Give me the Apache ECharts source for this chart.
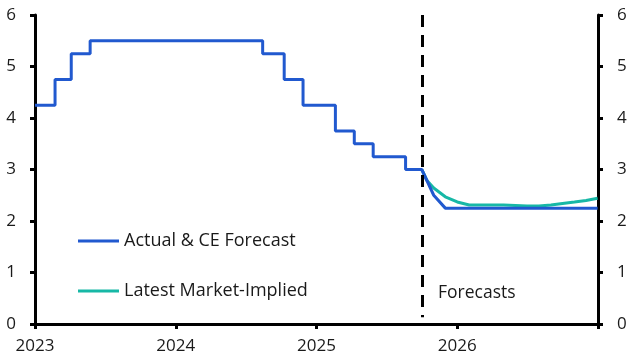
<!DOCTYPE html>
<html>
<head>
<meta charset="utf-8">
<script src="https://cdn.jsdelivr.net/npm/echarts@6/dist/echarts.min.js"></script>
<style>html,body{margin:0;padding:0;background:#fff}#c{width:633px;height:363px}</style>
</head>
<body>
<div id="c"></div>
<script>
// Policy rate decisions (date of change, new rate)
const actualDates = ['2023-01-01','2023-02-22','2023-04-05','2023-05-24','2024-08-14','2024-10-09','2024-11-27','2025-02-19','2025-04-09','2025-05-28','2025-08-20'];
const actualValues = [4.25, 4.75, 5.25, 5.5, 5.25, 4.75, 4.25, 3.75, 3.5, 3.25, 3.0];
const actualEnd = '2025-10-01';
// CE forecast (linear path)
const forecastDates = ['2025-11-01','2025-12-01','2026-12-31'];
const forecastValues = [2.5, 2.25, 2.25];
// Market-implied path
const marketDates = ['2025-10-01','2025-10-15','2025-11-01','2025-12-01','2026-01-01','2026-02-01','2026-03-01','2026-04-01','2026-05-01','2026-06-01','2026-07-01','2026-08-01','2026-09-01','2026-10-01','2026-11-01','2026-12-01','2026-12-31'];
const marketValues = [3.0, 2.78, 2.64, 2.47, 2.37, 2.31, 2.31, 2.31, 2.31, 2.30, 2.29, 2.29, 2.31, 2.34, 2.37, 2.40, 2.44];
const forecastStart = '2025-10-01';
const yearTicks = [2023, 2024, 2025, 2026, 2027];
const yearLabels = ['2023', '2024', '2025', '2026', ''];
const yTicks = [0, 1, 2, 3, 4, 5, 6];

function toYear(s) {
  const d = Date.parse(s + 'T00:00:00Z');
  const y = new Date(d).getUTCFullYear();
  const a = Date.UTC(y, 0, 1), b = Date.UTC(y + 1, 0, 1);
  return y + (d - a) / (b - a);
}

const blue = [];
for (let i = 0; i < actualDates.length; i++) {
  const x = toYear(actualDates[i]);
  if (i > 0) blue.push([x, actualValues[i - 1]]);
  blue.push([x, actualValues[i]]);
}
blue.push([toYear(actualEnd), actualValues[actualValues.length - 1]]);
for (let i = 0; i < forecastDates.length; i++) blue.push([toYear(forecastDates[i]), forecastValues[i]]);

const teal = marketDates.map((d, i) => [toYear(d), marketValues[i]]);

const FONT = 'Open Sans';
const axisLineStyle = { color: '#000', width: 3 };
const chart = echarts.init(document.getElementById('c'), null, { renderer: 'canvas' });
chart.setOption({
  animation: false,
  grid: { left: 35, right: 35, top: 15, bottom: 39, containLabel: false },
  xAxis: {
    type: 'value', min: yearTicks[0], max: yearTicks[yearTicks.length - 1], interval: 1,
    axisLine: { show: true, onZero: false, lineStyle: axisLineStyle },
    axisTick: { show: true, length: 5, lineStyle: { color: '#000', width: 3 } },
    axisLabel: { color: '#1a1a1a', fontFamily: FONT, fontSize: 17, margin: 14,
      formatter: v => yearLabels[yearTicks.indexOf(Math.round(v))] || '' },
    splitLine: { show: false }
  },
  yAxis: [
    {
      type: 'value', min: yTicks[0], max: yTicks[yTicks.length - 1], interval: 1, position: 'left',
      axisLine: { show: true, lineStyle: axisLineStyle },
      axisTick: { show: true, length: 5, lineStyle: { color: '#000', width: 3 } },
      axisLabel: { color: '#1a1a1a', fontFamily: FONT, fontSize: 17, margin: 19 },
      splitLine: { show: false }
    },
    {
      type: 'value', min: yTicks[0], max: yTicks[yTicks.length - 1], interval: 1, position: 'right',
      axisLine: { show: true, lineStyle: axisLineStyle },
      axisTick: { show: true, length: 5, lineStyle: { color: '#000', width: 3 } },
      axisLabel: { color: '#1a1a1a', fontFamily: FONT, fontSize: 17, margin: 19 },
      splitLine: { show: false }
    }
  ],
  legend: {
    orient: 'vertical', left: 73, top: 225, itemGap: 28, itemWidth: 41, itemHeight: 3,
    icon: 'rect',
    textStyle: { color: '#1a1a1a', fontFamily: FONT, fontSize: 18, lineHeight: 22 },
    data: ['Actual & CE Forecast', 'Latest Market-Implied']
  },
  graphic: [{
    type: 'text', left: 438, top: 284,
    style: { text: 'Forecasts', fill: '#1a1a1a', font: '17.5px "Open Sans"' }
  }],
  series: [
    {
      name: 'Latest Market-Implied', type: 'line', data: teal, showSymbol: false, symbol: 'none',
      lineStyle: { color: '#17B8A6', width: 3 }, itemStyle: { color: '#17B8A6' }, z: 2
    },
    {
      name: 'Actual & CE Forecast', type: 'line', data: blue, showSymbol: false, symbol: 'none',
      lineStyle: { color: '#2159CF', width: 3 }, itemStyle: { color: '#2159CF' }, z: 3,
      markLine: {
        silent: true, symbol: 'none', label: { show: false },
        lineStyle: { color: '#000', width: 3, type: [12, 8] },
        data: [[{ coord: [toYear(forecastStart), 6] }, { coord: [toYear(forecastStart), 0.13] }]]
      }
    }
  ]
});
</script>
</body>
</html>
